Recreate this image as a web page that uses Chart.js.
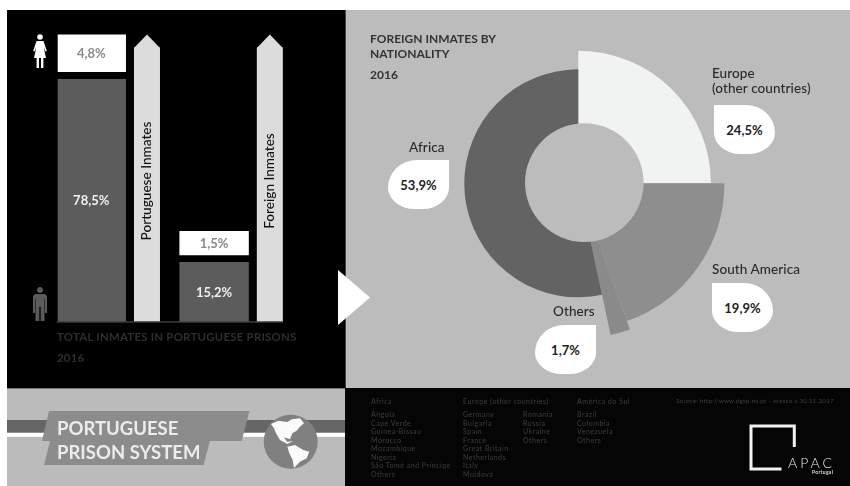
<!DOCTYPE html>
<html>
<head>
<meta charset="utf-8">
<title>Portuguese Prison System</title>
<script src="https://cdn.jsdelivr.net/npm/chart.js@4"></script>
<style>
  html, body { margin: 0; padding: 0; background: #fff; }
  body { position: relative; width: 850px; height: 486px; overflow: hidden; font-family: Lato, sans-serif; filter: blur(.35px); }
  .panel, .txt, canvas, svg, .drop { position: absolute; }
  .txt { white-space: nowrap; line-height: 1; }
  .drop { background: #fff; color: #222; font-weight: 700; font-size: 13px; display: flex; align-items: center; justify-content: center; width: 61px; height: 49px; }
  .drop.tl { border-radius: 0 55% 50% 50% / 0 65% 50% 50%; }
  .drop.tr { border-radius: 55% 0 50% 50% / 65% 0 50% 50%; }
  .head { color: #333; font-weight: 700; font-size: 12px; }
  .lab { color: #2a2a2a; font-size: 13.5px; font-weight: 500; letter-spacing: .1px; }
  .foot { color: #3e3e3e; font-size: 7px; letter-spacing: .5px; line-height: 8.55px; }
  .total { color: #2e2e2e; font-weight: 700; font-size: 11.4px; letter-spacing: .25px; }
  .banner { color: #ececec; font-weight: 700; font-size: 18.5px; }
</style>
</head>
<body>
<div class="panel" style="left:7px;top:10px;width:338px;height:378px;background:#000"></div>
<div class="panel" style="left:345px;top:10px;width:505px;height:378px;background:#bcbcbc;border-left:1px solid #444;box-sizing:border-box"></div>
<div class="panel" style="left:7px;top:388px;width:338px;height:98px;background:#bbb;border-top:1px solid #777;box-sizing:border-box"></div>
<div class="panel" style="left:345px;top:388px;width:505px;height:98px;background:#050505"></div>

<canvas id="barChart" style="left:7px;top:10px;width:338px;height:378px"></canvas>
<canvas id="pieChart" style="left:346px;top:10px;width:504px;height:378px"></canvas>

<!-- female / male pictograms -->
<svg style="left:0;top:0" width="850" height="486" viewBox="0 0 850 486">
  <g fill="#fff">
    <circle cx="40" cy="37" r="2.8"/>
    <path d="M36.5 41 L43.5 41 L46.8 51 L45.4 51.6 L43.6 47 L46 58 L43.4 58 L43.4 68 L41 68 L41 58 L39 58 L39 68 L36.6 68 L36.6 58 L34 58 L36.4 47 L34.6 51.6 L33.2 51 Z"/>
  </g>
  <g fill="#5a5a5a">
    <circle cx="40" cy="290" r="3"/>
    <path d="M35 294 L45 294 L47 296 L47 313 L45 313 L45 299 L44.5 299 L44.5 321 L40.7 321 L40.7 307 L39.3 307 L39.3 321 L35.5 321 L35.5 299 L35 299 L35 313 L33 313 L33 296 Z"/>
  </g>
  <!-- strip, banner, globe -->
  <rect x="7" y="420" width="338" height="12.5" fill="#666"/>
  <rect x="7" y="433" width="338" height="3.8" fill="#fff"/>
  <polygon points="49,411 249.5,411 241.7,441 210,441 203.5,465 44,465 50,441 42,441" fill="#8c8c8c"/>
  <circle cx="290.7" cy="441.7" r="27" fill="#808080"/>
  <g transform="translate(200 400) scale(.3333)" fill="#fafafa">
    <path d="M213 72 L235 62 L262 66 L275 58 L300 55 L312 70 L300 80 L290 92 L277 100 L270 118 L252 112 L262 126 L280 122 L262 132 L240 120 L228 100 L222 85 Z"/>
    <path d="M262 140 L285 135 L310 150 L328 155 L320 175 L300 185 L282 204 L278 180 L268 160 Z"/>
  </g>
  <!-- white pointer between the panels -->
  <polygon points="338,270 370,297.5 338,325" fill="#fff"/>
  <!-- logo -->
  <path d="M794.3 447 L794.3 426 L751 426 L751 469 L781.5 469" fill="none" stroke="#f2f2f2" stroke-width="3"/>
</svg>

<div class="txt total" style="left:57px;top:331px">TOTAL INMATES IN PORTUGUESE PRISONS</div>
<div class="txt total" style="left:57px;top:352px">2016</div>

<div class="txt head" style="left:370px;top:33px">FOREIGN INMATES BY</div>
<div class="txt head" style="left:370px;top:48px">NATIONALITY</div>
<div class="txt head" style="left:370px;top:69px">2016</div>

<div class="txt lab" style="left:712px;top:67px">Europe</div>
<div class="txt lab" style="left:712px;top:82px">(other countries)</div>
<div class="txt lab" style="left:409px;top:141px">Africa</div>
<div class="txt lab" style="left:712px;top:263px">South America</div>
<div class="txt lab" style="left:553px;top:305px">Others</div>

<div class="drop tl" style="left:714px;top:105px">24,5%</div>
<div class="drop tr" style="left:388px;top:160px">53,9%</div>
<div class="drop tl" style="left:712px;top:283px">19,9%</div>
<div class="drop tr" style="left:535px;top:325px">1,7%</div>

<div class="txt banner" style="left:57px;top:418.5px">PORTUGUESE</div>
<div class="txt banner" style="left:57px;top:442.5px">PRISON SYSTEM</div>

<div class="txt foot" style="left:371px;top:397px">Africa</div>
<div class="txt foot" style="left:463px;top:397px">Europe (other countries)</div>
<div class="txt foot" style="left:577px;top:397px">América do Sul</div>
<div class="txt foot" style="left:676px;top:397px;font-size:6.3px;letter-spacing:.22px">Source: http://www.dgsp.mj.pt - acesso a 30.11.2017</div>
<div class="txt foot" id="colAfrica" style="left:371px;top:410px"></div>
<div class="txt foot" id="colEurope1" style="left:463px;top:410px"></div>
<div class="txt foot" id="colEurope2" style="left:523px;top:410px"></div>
<div class="txt foot" id="colAmerica" style="left:577px;top:410px"></div>

<div class="txt" style="left:788px;top:456px;color:#e8e8e8;font-weight:300;font-size:14px;letter-spacing:3px">APAC</div>
<div class="txt" style="left:812px;top:470px;color:#ddd;font-weight:700;font-size:5px;letter-spacing:.3px">Portugal</div>

<script>
// left chart, heights as drawn (the picture is not to scale with its printed numbers)
const groups = ['Portuguese Inmates', 'Foreign Inmates'];
const maleHeights = [78.5, 19.4];
const gapHeights = [2.25, 2.2];
const femaleHeights = [12.15, 7.8];
const arrowShafts = [88.7, 88.7];
const arrowTips = [92.9, 92.9];
const maleText = ['78,5%', '15,2%'];
const femaleText = ['4,8%', '1,5%'];

// right chart, slice shares as drawn, clockwise from the top
const regions = ['Europe (other countries)', 'South America', 'Others', 'Africa'];
const regionShares = [25, 19.6, 2.06, 53.34];

// footer lists
const africaList = ['Angola', 'Cape Verde', 'Guinea-Bissau', 'Morocco', 'Mozambique', 'Nigeria', 'São Tomé and Principe', 'Others'];
const europeList1 = ['Germany', 'Bulgaria', 'Spain', 'France', 'Great Britain', 'Netherlands', 'Italy', 'Moldova'];
const europeList2 = ['Romania', 'Russia', 'Ukraine', 'Others'];
const americaList = ['Brazil', 'Colombia', 'Venezuela', 'Others'];

document.getElementById('colAfrica').innerHTML = africaList.join('<br>');
document.getElementById('colEurope1').innerHTML = europeList1.join('<br>');
document.getElementById('colEurope2').innerHTML = europeList2.join('<br>');
document.getElementById('colAmerica').innerHTML = americaList.join('<br>');

const barDecor = {
    id: 'barDecor',
    afterDatasetsDraw(chart) {
        const ctx = chart.ctx;
        const y = chart.scales.y;
        const male = chart.getDatasetMeta(0).data;
        const female = chart.getDatasetMeta(2).data;
        const shaft = chart.getDatasetMeta(3).data;
        ctx.save();
        // baseline
        ctx.strokeStyle = '#3c3c3c';
        ctx.lineWidth = 1.5;
        ctx.beginPath();
        ctx.moveTo(male[0].x - male[0].width / 2, y.getPixelForValue(0));
        ctx.lineTo(shaft[1].x + shaft[1].width / 2, y.getPixelForValue(0));
        ctx.stroke();
        ctx.textAlign = 'center';
        ctx.textBaseline = 'middle';
        groups.forEach((name, i) => {
            // arrow heads
            ctx.fillStyle = '#dcdcdc';
            ctx.beginPath();
            ctx.moveTo(shaft[i].x - shaft[i].width / 2, shaft[i].y + 0.5);
            ctx.lineTo(shaft[i].x, y.getPixelForValue(arrowTips[i]));
            ctx.lineTo(shaft[i].x + shaft[i].width / 2, shaft[i].y + 0.5);
            ctx.closePath();
            ctx.fill();
            // value labels
            ctx.font = '700 13px Lato';
            ctx.fillStyle = '#f0f0f0';
            ctx.fillText(maleText[i], male[i].x, y.getPixelForValue(maleHeights[i] * (i ? 0.48 : 0.5)));
            ctx.fillStyle = '#8a8a8a';
            ctx.fillText(femaleText[i], female[i].x, (female[i].y + female[i].base) / 2 + 1);
            // arrow captions
            ctx.save();
            ctx.translate(shaft[i].x, 171);
            ctx.rotate(-Math.PI / 2);
            ctx.font = '500 13.6px Lato';
            ctx.fillStyle = '#111';
            ctx.fillText(name, 0, 0);
            ctx.restore();
        });
        ctx.restore();
    }
};

new Chart(document.getElementById('barChart'), {
    type: 'bar',
    data: {
        labels: groups,
        datasets: [
            {label: 'Male', data: maleHeights, stack: 'bars', backgroundColor: '#5c5c5c', barPercentage: 1.246},
            {label: 'gap', data: gapHeights, stack: 'bars', backgroundColor: 'rgba(0,0,0,0)', barPercentage: 1.246},
            {label: 'Female', data: femaleHeights, stack: 'bars', backgroundColor: '#ffffff', barPercentage: 1.246},
            {label: 'Arrow', data: arrowShafts, stack: 'arrows', backgroundColor: '#dcdcdc', barPercentage: 0.467}
        ]
    },
    options: {
        responsive: false,
        animation: false,
        categoryPercentage: 0.907,
        layout: {padding: {left: 50.7, right: 41.6, top: 2.4, bottom: 66}},
        plugins: {legend: {display: false}, tooltip: {enabled: false}},
        scales: {
            x: {display: false, stacked: true},
            y: {display: false, stacked: true, min: 0, max: 100}
        }
    },
    plugins: [barDecor]
});

// slices have different outer radii in the picture and the hole sits off-centre
const reach = [0.765, 0.843, 0.895, 0.658];
const pieShape = {
    id: 'pieShape',
    beforeDatasetsDraw(chart) {
        const arcs = chart.getDatasetMeta(0).data;
        const full = Math.min(chart.chartArea.width, chart.chartArea.height) / 2;
        arcs.forEach((arc, i) => { arc.outerRadius = full * reach[i]; });
    },
    afterDatasetsDraw(chart) {
        const arc = chart.getDatasetMeta(0).data[0];
        const ctx = chart.ctx;
        ctx.save();
        ctx.fillStyle = '#bcbcbc';
        ctx.beginPath();
        ctx.arc(arc.x + 6, arc.y - 0.7, 59.3, 0, Math.PI * 2);
        ctx.fill();
        ctx.restore();
    }
};

new Chart(document.getElementById('pieChart'), {
    type: 'doughnut',
    data: {
        labels: regions,
        datasets: [{
            data: regionShares,
            backgroundColor: ['#f1f3f2', '#8e8e8e', '#8a8a8a', '#636363'],
            borderWidth: 0
        }]
    },
    options: {
        responsive: false,
        animation: false,
        cutout: '28%',
        layout: {padding: {left: 0, right: 39.4, top: 0, bottom: 31.4}},
        plugins: {legend: {display: false}, tooltip: {enabled: false}}
    },
    plugins: [pieShape]
});
</script>
</body>
</html>
